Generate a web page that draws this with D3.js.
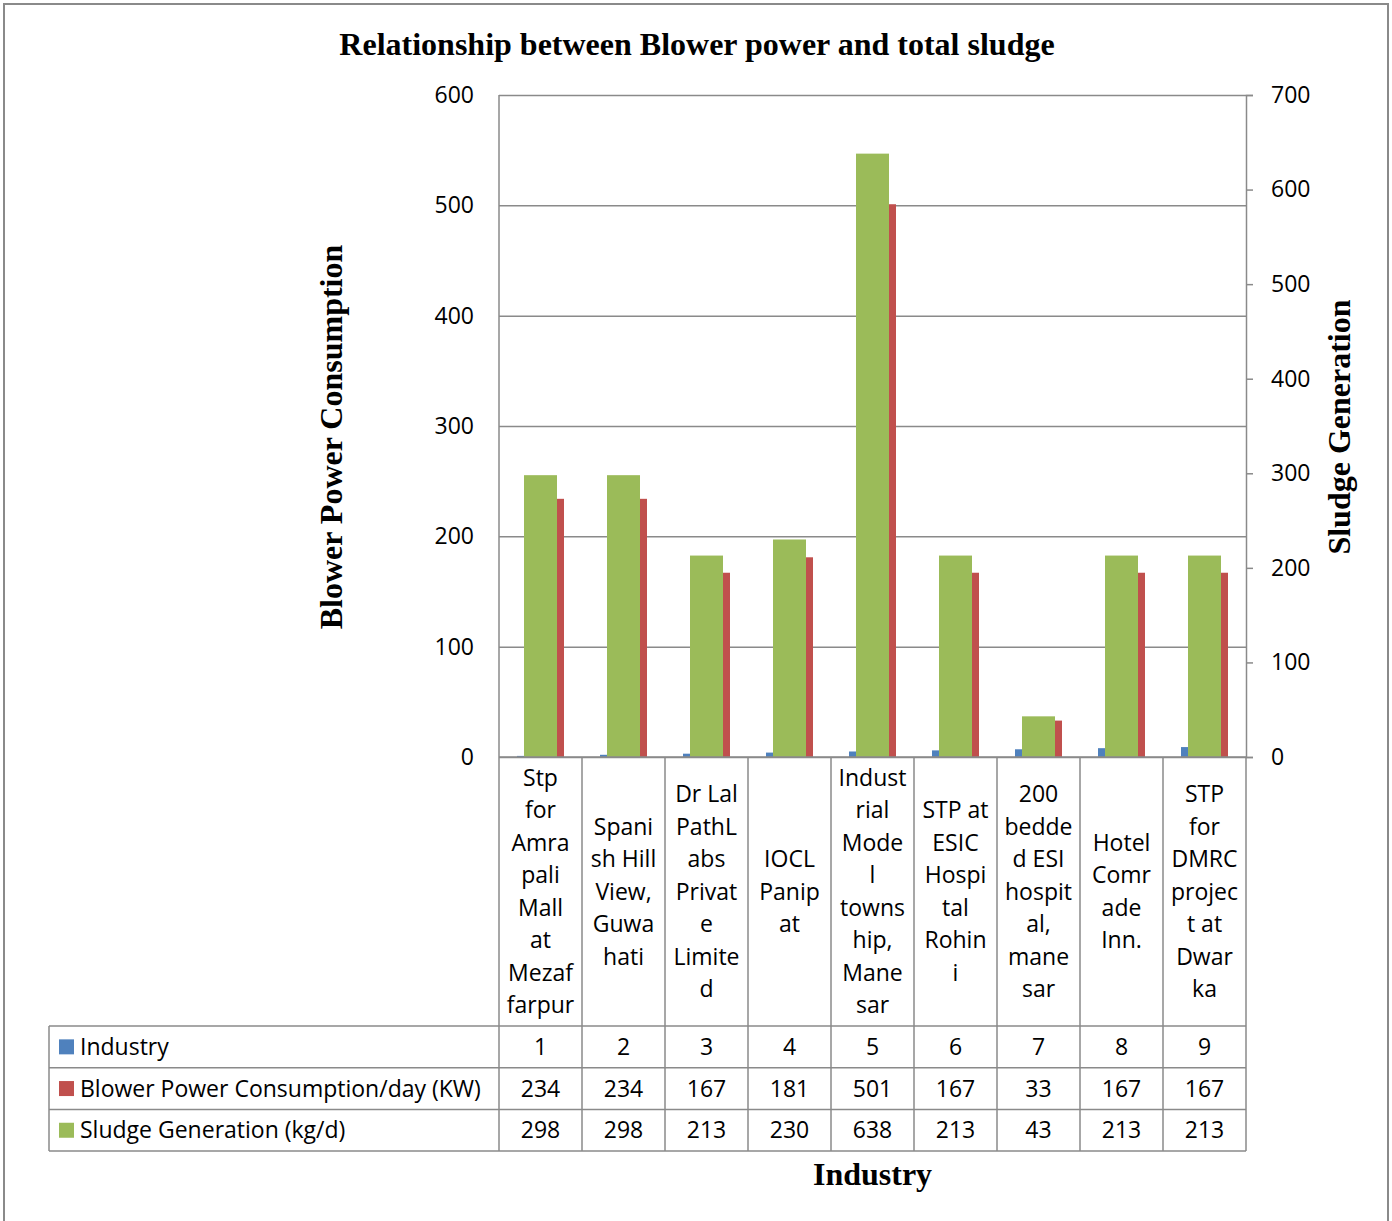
<!DOCTYPE html>
<html>
<head>
<meta charset="utf-8">
<script src="https://cdn.jsdelivr.net/npm/d3@7"></script>
<style>
  body { margin: 0; background: #fff; }
  svg text { font-family: "Open Sans", sans-serif; fill: #000; }
  .serif { font-family: "Liberation Serif", "Times New Roman", serif; font-weight: bold; }
</style>
</head>
<body>
<svg id="chart" width="1392" height="1221"></svg>
<script>
// Chart data
const categories = ["1", "2", "3", "4", "5", "6", "7", "8", "9"];
const categoryLabels = [
    ["Stp", "for", "Amra", "pali", "Mall", "at", "Mezaf", "farpur"],
    ["Spani", "sh Hill", "View,", "Guwa", "hati"],
    ["Dr Lal", "PathL", "abs", "Privat", "e", "Limite", "d"],
    ["IOCL", "Panip", "at"],
    ["Indust", "rial", "Mode", "l", "towns", "hip,", "Mane", "sar"],
    ["STP at", "ESIC", "Hospi", "tal", "Rohin", "i"],
    ["200", "bedde", "d ESI", "hospit", "al,", "mane", "sar"],
    ["Hotel", "Comr", "ade", "Inn."],
    ["STP", "for", "DMRC", "projec", "t at", "Dwar", "ka"]
];
const industry = [1, 2, 3, 4, 5, 6, 7, 8, 9];
const blowerPower = [234, 234, 167, 181, 501, 167, 33, 167, 167];
const sludge = [298, 298, 213, 230, 638, 213, 43, 213, 213];
const leftTicks = [0, 100, 200, 300, 400, 500, 600];
const rightTicks = [0, 100, 200, 300, 400, 500, 600, 700];

const seriesNames = ["Industry", "Blower Power Consumption/day (KW)", "Sludge Generation (kg/d)"];
const colors = ["#4F81BD", "#C0504D", "#9BBB59"];
const gridColor = "#8a8a8a";
const fs = 23;

const svg = d3.select("#chart");

// outer frame
svg.append("rect")
    .attr("x", 4).attr("y", 4).attr("width", 1384).attr("height", 1240)
    .attr("fill", "none").attr("stroke", gridColor).attr("stroke-width", 2);

const plot = { left: 499, right: 1246, top: 95, bottom: 757 };

const x = d3.scaleBand().domain(categories).range([plot.left, plot.right]).padding(0);
const yL = d3.scaleLinear().domain([0, 600]).range([plot.bottom, plot.top]);
const yR = d3.scaleLinear().domain([0, 700]).range([plot.bottom, plot.top]);

// primary series sit side by side, secondary series centered over them
const xSub = d3.scaleBand().domain(["industry", "blower"])
    .range([0, x.bandwidth()]).paddingInner(0).paddingOuter(0.766);
const xSec = d3.scaleBand().domain(["sludge"])
    .range([0, x.bandwidth()]).paddingInner(0).paddingOuter(0.758);

// gridlines
svg.append("g")
    .attr("transform", `translate(${plot.left},0)`)
    .call(d3.axisLeft(yL).tickValues(leftTicks).tickSize(-(plot.right - plot.left)).tickFormat(""))
    .call(g => g.select(".domain").remove())
    .call(g => g.selectAll("line").attr("stroke", gridColor).attr("stroke-width", 1.5));

// left tick labels
svg.append("g")
    .attr("transform", `translate(${plot.left},0)`)
    .call(d3.axisLeft(yL).tickValues(leftTicks).tickSize(0).tickPadding(25))
    .call(g => g.select(".domain").remove())
    .call(g => g.selectAll("text").attr("font-size", fs).attr("font-family", "Open Sans"));

// right axis
svg.append("g")
    .attr("transform", `translate(${plot.right},0)`)
    .call(d3.axisRight(yR).tickValues(rightTicks).tickSize(7).tickPadding(18))
    .call(g => g.select(".domain").attr("stroke", gridColor).attr("stroke-width", 1.5))
    .call(g => g.selectAll("line").attr("stroke", gridColor).attr("stroke-width", 1.5))
    .call(g => g.selectAll("text").attr("font-size", fs).attr("font-family", "Open Sans"));

// left border of plot
svg.append("line")
    .attr("x1", plot.left).attr("x2", plot.left)
    .attr("y1", plot.top).attr("y2", plot.bottom)
    .attr("stroke", gridColor).attr("stroke-width", 1.5);

// bars
const bars = svg.append("g");
bars.selectAll(".ind").data(categories).enter().append("rect")
    .attr("x", (d, i) => x(d) + xSub("industry"))
    .attr("width", xSub.bandwidth())
    .attr("y", (d, i) => yL(industry[i]))
    .attr("height", (d, i) => yL(0) - yL(industry[i]))
    .attr("fill", colors[0]);
bars.selectAll(".blow").data(categories).enter().append("rect")
    .attr("x", (d, i) => x(d) + xSub("blower"))
    .attr("width", xSub.bandwidth())
    .attr("y", (d, i) => yL(blowerPower[i]))
    .attr("height", (d, i) => yL(0) - yL(blowerPower[i]))
    .attr("fill", colors[1]);
bars.selectAll(".sl").data(categories).enter().append("rect")
    .attr("x", (d, i) => x(d) + xSec("sludge"))
    .attr("width", xSec.bandwidth())
    .attr("y", (d, i) => yR(sludge[i]))
    .attr("height", (d, i) => yR(0) - yR(sludge[i]))
    .attr("fill", colors[2]);

// axis baseline
svg.append("line")
    .attr("x1", plot.left).attr("x2", plot.right)
    .attr("y1", plot.bottom).attr("y2", plot.bottom)
    .attr("stroke", gridColor).attr("stroke-width", 1.5);

// data table
const table = { left: 49, labelBottom: 1026, rowH: 41.7 };
const rows = [industry, blowerPower, sludge];
const tableBottom = table.labelBottom + rows.length * table.rowH;
const tbl = svg.append("g");

// vertical lines between categories
x.domain().concat(["end"]).forEach((d, i) => {
    const xx = i < categories.length ? x(d) : plot.right;
    tbl.append("line")
        .attr("x1", xx).attr("x2", xx)
        .attr("y1", plot.bottom).attr("y2", tableBottom)
        .attr("stroke", gridColor).attr("stroke-width", 1.5);
});
tbl.append("line")
    .attr("x1", table.left).attr("x2", table.left)
    .attr("y1", table.labelBottom).attr("y2", tableBottom)
    .attr("stroke", gridColor).attr("stroke-width", 1.5);
d3.range(rows.length + 1).forEach(r => {
    const yy = table.labelBottom + r * table.rowH;
    tbl.append("line")
        .attr("x1", table.left).attr("x2", plot.right)
        .attr("y1", yy).attr("y2", yy)
        .attr("stroke", gridColor).attr("stroke-width", 1.5);
});

// category labels (wrapped like the original)
const lineH = 32.5;
const midLabel = (plot.bottom + table.labelBottom) / 2;
categoryLabels.forEach((lines, i) => {
    const cx = x(categories[i]) + x.bandwidth() / 2;
    const y0 = midLabel - (lines.length - 1) * lineH / 2;
    lines.forEach((t, j) => {
        tbl.append("text")
            .attr("x", cx).attr("y", y0 + j * lineH)
            .attr("dy", "0.35em")
            .attr("text-anchor", "middle")
            .attr("font-size", fs)
            .text(t);
    });
});

// row values and row headers
rows.forEach((vals, r) => {
    const cy = table.labelBottom + (r + 0.5) * table.rowH;
    tbl.append("rect")
        .attr("x", 59).attr("y", cy - 7.5).attr("width", 15).attr("height", 15)
        .attr("fill", colors[r]);
    tbl.append("text")
        .attr("x", 80).attr("y", cy).attr("dy", "0.35em")
        .attr("font-size", fs)
        .text(seriesNames[r]);
    vals.forEach((v, i) => {
        tbl.append("text")
            .attr("x", x(categories[i]) + x.bandwidth() / 2)
            .attr("y", cy).attr("dy", "0.35em")
            .attr("text-anchor", "middle")
            .attr("font-size", fs)
            .text(v);
    });
});

// titles
svg.append("text").attr("class", "serif")
    .attr("x", 697).attr("y", 55)
    .attr("text-anchor", "middle").attr("font-size", 32)
    .text("Relationship between Blower power and total sludge");

svg.append("text").attr("class", "serif")
    .attr("transform", "translate(342,437) rotate(-90)")
    .attr("text-anchor", "middle").attr("font-size", 32)
    .text("Blower Power Consumption");

svg.append("text").attr("class", "serif")
    .attr("transform", "translate(1350,427) rotate(-90)")
    .attr("text-anchor", "middle").attr("font-size", 32)
    .text("Sludge Generation");

svg.append("text").attr("class", "serif")
    .attr("x", (plot.left + plot.right) / 2).attr("y", 1185)
    .attr("text-anchor", "middle").attr("font-size", 32)
    .text("Industry");
</script>
</body>
</html>
